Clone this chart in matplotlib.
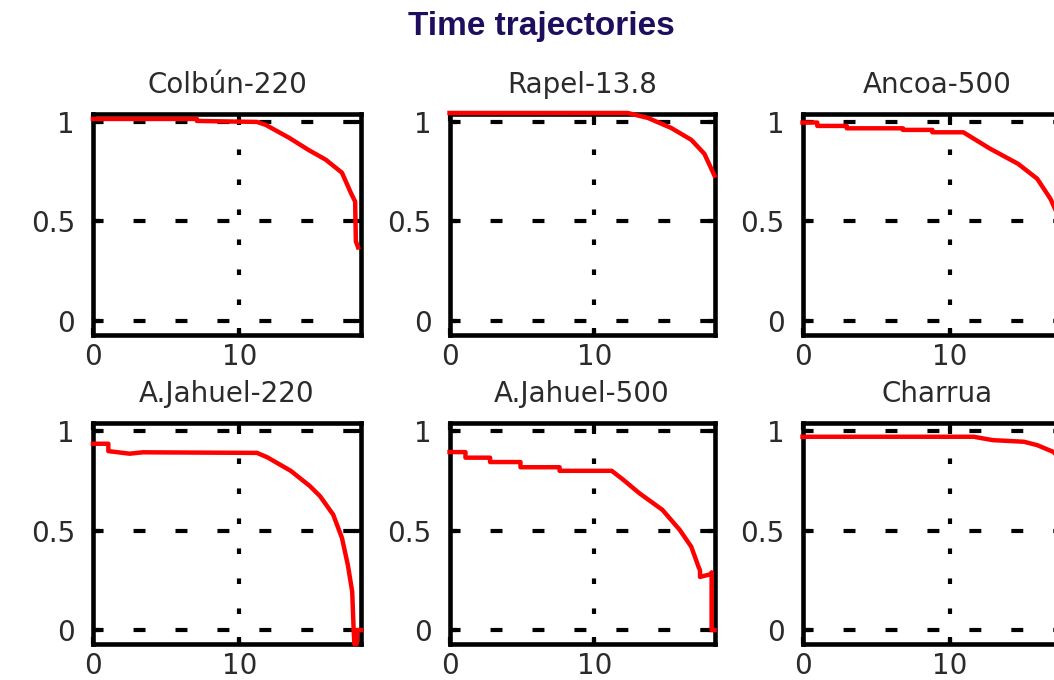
import matplotlib
matplotlib.use("Agg")
import matplotlib.pyplot as plt

# dash lengths given in points, not scaled by linewidth
plt.rcParams['lines.scale_dashes'] = False
plt.rcParams['font.family'] = ['DejaVu Sans']

# Data
titles = ['Colbún-220', 'Rapel-13.8', 'Ancoa-500',
          'A.Jahuel-220', 'A.Jahuel-500', 'Charrua']

t_colbun = [0, 7.1, 7.1, 11.2, 11.8, 13.4, 14.7, 15.9, 17.0, 17.6, 17.9, 17.95, 18.1]
v_colbun = [1.015, 1.015, 1.005, 1.0, 0.985, 0.92, 0.86, 0.81, 0.745, 0.645, 0.6, 0.40, 0.37]

t_rapel = [0, 12.3, 13.7, 15.3, 16.7, 17.6, 18.3]
v_rapel = [1.045, 1.045, 1.02, 0.97, 0.91, 0.84, 0.73]

t_ancoa = [0, 1.0, 1.0, 3.0, 3.0, 6.8, 6.8, 8.8, 8.8, 10.9, 12.7, 14.6, 15.9, 16.8, 17.5, 18.2]
v_ancoa = [0.997, 0.997, 0.98, 0.98, 0.968, 0.968, 0.96, 0.96, 0.948, 0.948,
           0.866, 0.79, 0.715, 0.614, 0.5, 0.35]

t_jah220 = [0, 1.05, 1.05, 2.5, 3.4, 11.2, 11.9, 13.5, 14.8, 15.5, 16.4, 17.0,
            17.4, 17.7, 17.8, 17.85, 17.95, 18.0, 18.05, 18.3]
v_jah220 = [0.936, 0.936, 0.899, 0.886, 0.893, 0.89, 0.868, 0.8, 0.724, 0.673, 0.58, 0.463,
            0.328, 0.193, 0.0, -0.07, 0.0, -0.07, 0.0, 0.0]

t_jah500 = [0, 1.1, 1.1, 2.8, 2.8, 4.9, 4.9, 7.6, 7.6, 11.2, 12.0, 13.1, 14.7, 15.9,
            16.7, 17.2, 17.3, 17.3, 18.0, 18.1, 18.1, 18.3]
v_jah500 = [0.894, 0.894, 0.866, 0.866, 0.844, 0.844, 0.818, 0.818, 0.80, 0.80, 0.755,
            0.688, 0.604, 0.503, 0.418, 0.317, 0.30, 0.267, 0.28, 0.29, 0.0, 0.0]

t_charrua = [0, 11.6, 12.9, 15.0, 15.9, 17.0, 17.6, 18.3]
v_charrua = [0.971, 0.971, 0.954, 0.946, 0.929, 0.895, 0.85, 0.78]

series = [(t_colbun, v_colbun), (t_rapel, v_rapel), (t_ancoa, v_ancoa),
          (t_jah220, v_jah220), (t_jah500, v_jah500), (t_charrua, v_charrua)]

xticks = [0, 10]
yticks = [0, 0.5, 1]
xticklabels = ['0', '10']
yticklabels = ['0', '0.5', '1']

# axes boxes in figure fractions (third column runs off the right edge)
col_x = [(0.0882, 0.2543), (0.4265, 0.2514), (0.7614, 0.2562)]
row_y = [0.5074, 0.0529]
ax_h = 0.325

TXT = '#2b2b2b'

fig = plt.figure(figsize=(10.54, 6.8), dpi=100)
fig.patch.set_facecolor('white')

for i, (t, v) in enumerate(series):
    r, c = divmod(i, 3)
    x0, w = col_x[c]
    ax = fig.add_axes([x0, row_y[r], w, ax_h])

    # grid: dashed horizontals, dotted vertical at 10
    for yv in yticks:
        ax.axhline(yv, color='black', lw=3, linestyle=(1, (8.6, 21.6)), zorder=1)
    ax.axvline(10, color='black', lw=3, linestyle=(0, (4, 17.6)), zorder=1)

    ax.plot(t, v, color='#ff0000', lw=3.2, zorder=3, clip_on=False)

    ax.set_xlim(0, 18.3)
    ax.set_ylim(-0.07, 1.04)
    ax.set_xticks(xticks)
    ax.set_xticklabels(xticklabels)
    ax.set_yticks(yticks)
    ax.set_yticklabels(yticklabels)
    ax.tick_params(axis='both', direction='in', length=5, width=3, color='black',
                   labelsize=20, labelcolor=TXT, top=True, right=True)
    ax.tick_params(axis='y', pad=13)
    ax.tick_params(axis='x', pad=6)
    for sp in ax.spines.values():
        sp.set_linewidth(3.3)
        sp.set_color('black')
    ax.set_title(titles[i], fontsize=20, color=TXT, pad=15)

fig.text(541 / 1054, 1 - 35 / 680, 'Time trajectories', ha='center', va='baseline',
         fontsize=24, fontweight='bold', color='#1f0e5e', family='Liberation Sans')

fig.savefig('out.png', dpi=100)
